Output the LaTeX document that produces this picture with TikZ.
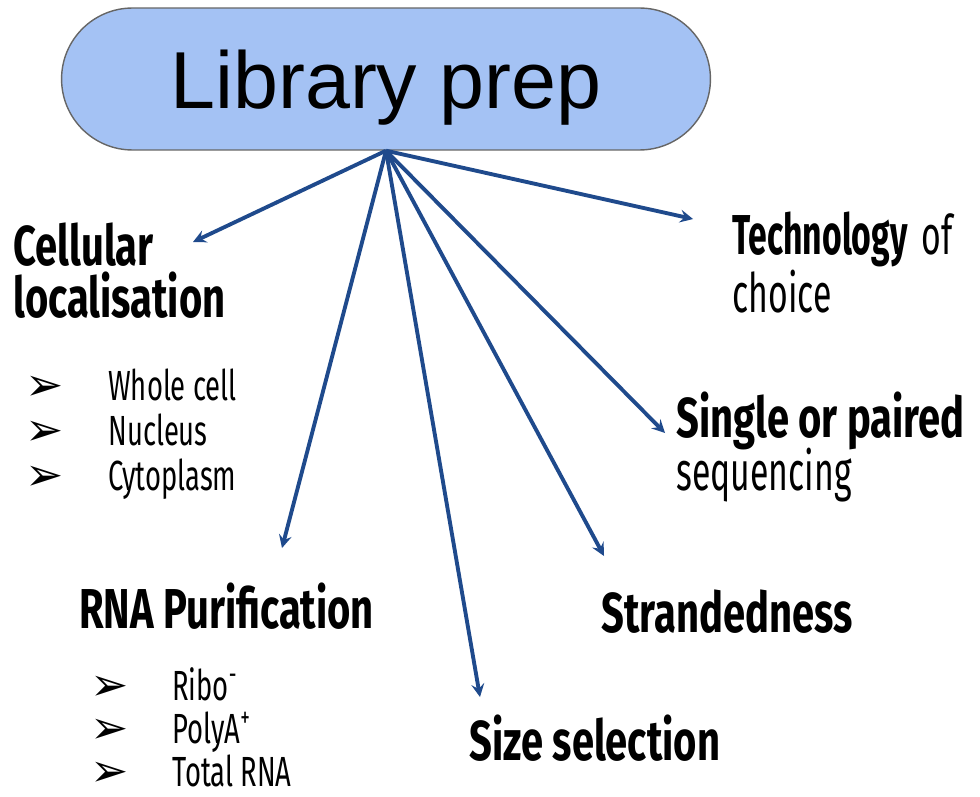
\documentclass[tikz,border=0pt]{standalone}
\usepackage{fontspec}
\setmainfont{Liberation Sans}
\newfontfamily\headfont[FakeStretch=0.71]{Fira Sans}
\newfontfamily\techfont[FakeStretch=0.6]{Fira Sans}
\newfontfamily\softfont[FakeStretch=0.62]{Fira Sans}
\newfontfamily\itemfont[FakeStretch=0.65]{Fira Sans}
\newfontfamily\symfont{DejaVu Sans}
\definecolor{pillblue}{HTML}{A4C2F4}
\definecolor{pillline}{HTML}{666666}
\definecolor{arrowblue}{HTML}{1F4A8C}
\tikzset{>=stealth}
\newcommand{\headtxt}{\headfont\bfseries\fontsize{32}{34}\selectfont}
\newcommand{\techtxt}{\techfont\bfseries\fontsize{32}{34}\selectfont}
\newcommand{\softtxt}{\softfont\mdseries\fontsize{31}{34}\selectfont}
\newcommand{\itemtxt}{\itemfont\mdseries\fontsize{24}{26}\selectfont}
\newcommand{\bul}{{\symfont\fontsize{26}{28}\selectfont ➢}}

\begin{document}
\begin{tikzpicture}[x=0.02cm,y=-0.02cm]
\useasboundingbox (0,0) rectangle (980,797);
\node (prep) [draw=pillline,fill=pillblue,line width=0.8pt,
    minimum width=12.98cm,minimum height=2.84cm,rounded corners=1.42cm,
    text depth=0pt,font=\fontsize{46}{50}\selectfont] at (386,79) {Library prep};

\begin{scope}[every node/.style={anchor=base west,inner sep=0pt}]
\node (cell1) at (13,265) {\headtxt Cellular};
\node (cell2) at (13,317) {\headtxt localisation};
\node (b1) at (25,400) {\bul};
\node (whole) at (108,400) {\itemtxt Whole cell};
\node (b2) at (25,445) {\bul};
\node (nucleus) at (108,445) {\itemtxt Nucleus};
\node (b3) at (25,490) {\bul};
\node (cyto) at (108,490) {\itemtxt Cytoplasm};

\node (tech1) at (732,255) {\techtxt Technology\hspace{8pt}\softtxt of};
\node (tech2) at (732,312) {\softtxt choice};

\node (pair1) at (676,437) {\headtxt Single or paired};
\node (pair2) at (676,490) {\softtxt sequencing};

\node (strand) at (601,632) {\headtxt Strandedness};

\node (rna) at (79,628) {\headtxt RNA Purification};
\node (b4) at (90,700) {\bul};
\node (ribo) at (172,700) {\itemtxt Ribo\textsuperscript{-}};
\node (b5) at (90,743) {\bul};
\node (polya) at (172,743) {\itemtxt PolyA\textsuperscript{+}};
\node (b6) at (90,786) {\bul};
\node (total) at (172,786) {\itemtxt Total RNA};

\node (size) at (469,760) {\headtxt Size selection};
\end{scope}

\coordinate (tipCell) at (193,242);
\coordinate (tipTech) at (693,219);
\coordinate (tipRna) at (282,548);
\coordinate (tipSize) at (480,697);
\coordinate (tipStrand) at (604,556);
\coordinate (tipPair) at (665,433);

\begin{scope}[every edge/.style={draw=arrowblue,line width=2.2pt}]
    \path [->] (prep.south) edge (tipCell);
    \path [->] (prep.south) edge (tipTech);
    \path [->] (prep.south) edge (tipRna);
    \path [->] (prep.south) edge (tipSize);
    \path [->] (prep.south) edge (tipStrand);
    \path [->] (prep.south) edge (tipPair);
\end{scope}
\end{tikzpicture}
\end{document}
